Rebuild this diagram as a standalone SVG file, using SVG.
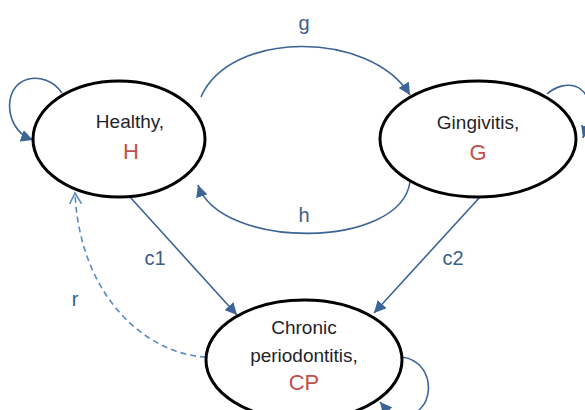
<svg xmlns="http://www.w3.org/2000/svg" width="585" height="410" viewBox="0 0 585 410">
<style>
.node{fill:#fff;stroke:#000;stroke-width:3}
.t{font-family:"Liberation Sans",Arial,sans-serif;font-size:19px;fill:#1f1f2a;text-anchor:middle}
.r{font-family:"Liberation Sans",Arial,sans-serif;font-size:22px;fill:#C0504D;text-anchor:middle}
.lbl{font-family:"Liberation Sans",Arial,sans-serif;font-size:20px;fill:#3b5e8c;text-anchor:middle}
.e{fill:none;stroke:#3c6496;stroke-width:1.6}
.d{fill:none;stroke:#5a8ac6;stroke-width:1.6;stroke-dasharray:6 4}
</style>
<defs>
<marker id="a" markerUnits="userSpaceOnUse" markerWidth="14" markerHeight="12" refX="12" refY="6" orient="auto">
<path d="M0,0 L12,6 L0,12 z" fill="#3c6496"/>
</marker>
<marker id="o" markerUnits="userSpaceOnUse" markerWidth="14" markerHeight="14" refX="11" refY="7" orient="auto">
<path d="M0,1 L11,7 L0,13" fill="none" stroke="#5a8ac6" stroke-width="1.6"/>
</marker>
</defs>
<g id="edges">
<path class="e" d="M201 97 C230 30 370 30 410 95" marker-end="url(#a)"/>
<path class="e" d="M410 182 C400 250 220 250 198 185" marker-end="url(#a)"/>
<path class="e" d="M62 93 C45 68 5 75 10 112 C13 128 22 136 33 140" marker-end="url(#a)"/>
<path class="e" d="M547 94 C565 78 592 84 588 112 C587 125 585 132 583 138" marker-end="url(#a)"/>
<path class="e" d="M402 357 C440 362 435 420 400 415 C390 413 385 408 380 402" marker-end="url(#a)"/>
<path class="e" d="M130 197 L237 315" marker-end="url(#a)"/>
<path class="e" d="M480 197 L374 313" marker-end="url(#a)"/>
<path class="d" d="M206 357 C150 355 80 300 75 193" marker-end="url(#o)"/>
<text class="lbl" x="304" y="30">g</text>
<text class="lbl" x="304" y="222">h</text>
<text class="lbl" x="155" y="265">c1</text>
<text class="lbl" x="453" y="265">c2</text>
<text class="lbl" x="75" y="306">r</text>
</g>
<g id="healthy">
<ellipse class="node" cx="119" cy="139" rx="86" ry="58"/>
<text class="t" x="130" y="128">Healthy,</text>
<text class="r" x="131" y="159">H</text>
</g>
<g id="gingivitis">
<ellipse class="node" cx="478" cy="139" rx="98" ry="58"/>
<text class="t" x="478" y="129">Gingivitis,</text>
<text class="r" x="478" y="160">G</text>
</g>
<g id="cp">
<ellipse class="node" cx="304" cy="360" rx="98" ry="60"/>
<text class="t" x="304" y="334">Chronic</text>
<text class="t" x="304" y="362">periodontitis,</text>
<text class="r" x="304" y="390">CP</text>
</g>
</svg>
